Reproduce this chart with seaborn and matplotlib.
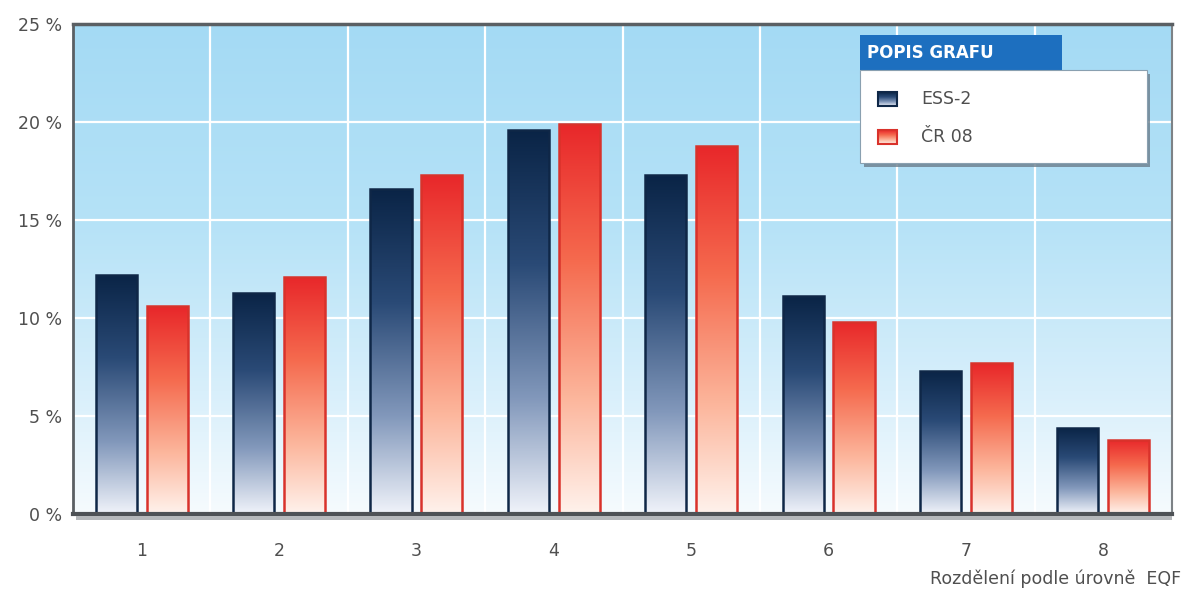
import numpy as np
import pandas as pd
import matplotlib
matplotlib.use("Agg")
import matplotlib.pyplot as plt
from matplotlib.colors import LinearSegmentedColormap
from matplotlib.patches import Rectangle
import seaborn as sns

levels = ["1", "2", "3", "4", "5", "6", "7", "8"]
ess2 = [12.2, 11.3, 16.6, 19.6, 17.3, 11.1, 7.3, 4.4]
cr08 = [10.6, 12.1, 17.3, 19.9, 18.8, 9.8, 7.7, 3.8]
series_names = ["ESS-2", "ČR 08"]
y_ticks = [0, 5, 10, 15, 20, 25]
y_tick_labels = ["0 %", "5 %", "10 %", "15 %", "20 %", "25 %"]
legend_title = "POPIS GRAFU"
x_title = "Rozdělení podle úrovně  EQF"

df = pd.DataFrame({
    "level": levels * 2,
    "value": ess2 + cr08,
    "series": [series_names[0]] * len(levels) + [series_names[1]] * len(levels),
})

sns.set_theme(style="white")
plt.rcParams["font.family"] = ["DejaVu Sans"]

TEXT = "#4f4f4f"

fig = plt.figure(figsize=(11.83, 5.93), dpi=100)
fig.patch.set_facecolor("white")
ax = fig.add_axes([73 / 1183, 79 / 593, 1099 / 1183, 490 / 593])

edge_cols = {series_names[0]: "#0f2747", series_names[1]: "#d9322b"}
sns.barplot(data=df, x="level", y="value", hue="series", order=levels,
            hue_order=series_names, palette=edge_cols, width=0.74, gap=0.19,
            legend=False, ax=ax, zorder=2)

ax.set_xlim(-0.5, len(levels) - 0.5)
ax.set_ylim(0, 25)

# sky-blue plot background fading to white at the baseline
bg_cmap = LinearSegmentedColormap.from_list(
    "bg", [(0.0, "#f6fbfe"), (0.25, "#d8effb"), (0.6, "#b5e2f7"), (1.0, "#a4daf4")])
grad = np.linspace(0, 1, 256).reshape(-1, 1)
ax.imshow(grad, cmap=bg_cmap, aspect="auto", origin="lower",
          extent=[-0.5, len(levels) - 0.5, 0, 25], zorder=0)

# white grid: horizontal at ticks, vertical between groups
for y in y_ticks[1:-1]:
    ax.axhline(y, color="white", lw=1.6, zorder=0.5)
for x in np.arange(0.5, len(levels) - 0.5, 1):
    ax.axvline(x, color="white", lw=1.6, zorder=0.5)

# vertical gradient fill inside each bar
bar_cmaps = {
    series_names[0]: LinearSegmentedColormap.from_list(
        "ess", [(0.0, "#f0f3fa"), (0.3, "#8298bb"), (0.65, "#2a4a76"), (1.0, "#0a2446")]),
    series_names[1]: LinearSegmentedColormap.from_list(
        "cr", [(0.0, "#fff2ec"), (0.3, "#fcb59b"), (0.65, "#f56a4e"), (1.0, "#e8272a")]),
}
bars = [p for p in ax.patches if isinstance(p, Rectangle) and p.get_height() > 0]
for i, p in enumerate(bars):
    name = series_names[0] if i < len(levels) else series_names[1]
    x0, w, h = p.get_x(), p.get_width(), p.get_height()
    im = ax.imshow(grad, cmap=bar_cmaps[name], aspect="auto", origin="lower",
                   extent=[x0, x0 + w, 0, h], zorder=2.5)
    im.set_clip_path(p)
    p.set_facecolor("none")
    p.set_edgecolor(edge_cols[name])
    p.set_linewidth(1.8)
    p.set_zorder(3)

ax.set_xlim(-0.5, len(levels) - 0.5)
ax.set_ylim(0, 25)

ax.set_yticks(y_ticks)
ax.set_yticklabels(y_tick_labels)
ax.set_xticks(range(len(levels)))
ax.set_xticklabels(levels)
ax.tick_params(axis="both", length=0, labelsize=12.5, labelcolor=TEXT)
ax.tick_params(axis="y", pad=8)
ax.tick_params(axis="x", pad=20)
ax.set_xlabel("")
ax.set_ylabel("")

for side, col, lw in [("top", "#5a5f63", 2.5), ("left", "#5a5f63", 2.0),
                      ("right", "#7d8286", 1.5), ("bottom", "#4e5256", 3.0)]:
    ax.spines[side].set_visible(True)
    ax.spines[side].set_color(col)
    ax.spines[side].set_linewidth(lw)
    ax.spines[side].set_zorder(5)

# soft shadow under the baseline
fig.add_artist(Rectangle((76 / 1183, (593 - 520) / 593), 1096 / 1183, 4 / 593,
                         transform=fig.transFigure, facecolor="#b5b8bb",
                         edgecolor="none", zorder=1))

fig.text(1181 / 1183, (593 - 579) / 593, x_title, ha="right", va="center",
         fontsize=12.5, color=TEXT)

# legend panel with blue header tab
T = ax.transAxes
def ax_x(px):
    return (px - 73) / 1099
def ax_y(py):
    return (514 - py) / 490

ax.add_patch(Rectangle((ax_x(864), ax_y(167)), ax_x(1150) - ax_x(864), ax_y(74) - ax_y(167),
                       transform=T, facecolor="#6c7e8c", edgecolor="none", zorder=6, alpha=0.8))
ax.add_patch(Rectangle((ax_x(860), ax_y(70)), ax_x(1062) - ax_x(860), ax_y(35) - ax_y(70),
                       transform=T, facecolor="#1d6fbf", edgecolor="none", zorder=7))
ax.add_patch(Rectangle((ax_x(860), ax_y(163)), ax_x(1147) - ax_x(860), ax_y(70) - ax_y(163),
                       transform=T, facecolor="white", edgecolor="#8aa0b0", lw=0.8, zorder=7))
ax.text(ax_x(867), ax_y(53), legend_title, transform=T, ha="left", va="center",
        fontsize=12, color="white", fontweight="bold", zorder=8)

leg_rows = [(series_names[0], 99), (series_names[1], 137)]
for name, py in leg_rows:
    sw = Rectangle((ax_x(878), ax_y(py + 7)), ax_x(897) - ax_x(878), ax_y(py - 7) - ax_y(py + 7),
                   transform=T, facecolor="none", edgecolor=edge_cols[name], lw=1.5, zorder=9)
    ax.add_patch(sw)
    im = ax.imshow(grad, cmap=bar_cmaps[name], aspect="auto", origin="lower",
                   extent=[ax_x(878), ax_x(897), ax_y(py + 7), ax_y(py - 7)],
                   transform=T, zorder=8.5)
    im.set_clip_path(sw)
    ax.text(ax_x(921), ax_y(py), name, transform=T, ha="left", va="center",
            fontsize=12.5, color=TEXT, zorder=9)

ax.set_xlim(-0.5, len(levels) - 0.5)
ax.set_ylim(0, 25)

fig.savefig("out.png", dpi=100)
